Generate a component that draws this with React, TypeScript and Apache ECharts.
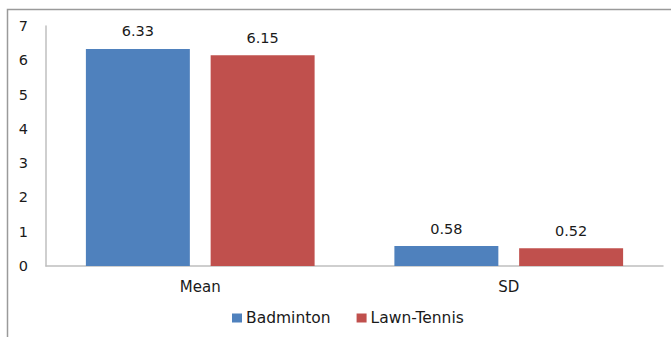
import React, { useEffect, useRef } from "react";
import * as echarts from "echarts";

const categories = ["Mean", "SD"];
const badminton = [6.33, 0.58];
const lawnTennis = [6.15, 0.52];
const yTicks = [0, 1, 2, 3, 4, 5, 6, 7];

const FONT = "DejaVu Sans";

export default function App() {
  const ref = useRef<HTMLDivElement>(null);

  useEffect(() => {
    if (!ref.current) return;
    const chart = echarts.init(ref.current, undefined, { renderer: "svg" });
    const labelStyle = {
      show: true,
      position: "top" as const,
      distance: 10,
      color: "#1a1a1a",
      fontFamily: FONT,
      fontSize: 14.5,
      formatter: (p: any) => Number(p.value).toFixed(2),
    };
    chart.setOption({
      animation: false,
      backgroundColor: "#ffffff",
      textStyle: { fontFamily: FONT },
      graphic: [
        {
          type: "rect",
          silent: true,
          shape: { x: 7.5, y: 9.5, width: 700, height: 400 },
          style: { fill: "none", stroke: "#9a9a9a", lineWidth: 1.5 },
        },
      ],
      grid: { left: 46, right: 8, top: 26, bottom: 71, containLabel: false },
      legend: {
        bottom: 6,
        left: 227,
        itemWidth: 10,
        itemHeight: 9,
        itemGap: 26,
        icon: "rect",
        textStyle: { fontFamily: FONT, fontSize: 15.5, color: "#1a1a1a", padding: [0, 0, 0, -1] },
        data: ["Badminton", "Lawn-Tennis"],
      },
      xAxis: {
        type: "category",
        data: categories,
        axisLine: { show: true, lineStyle: { color: "#bfbfbf", width: 1.5 } },
        axisTick: { show: false },
        axisLabel: { fontFamily: FONT, fontSize: 15, color: "#1a1a1a", margin: 13 },
      },
      yAxis: {
        type: "value",
        min: yTicks[0],
        max: yTicks[yTicks.length - 1],
        interval: 1,
        axisLine: { show: true, lineStyle: { color: "#bfbfbf", width: 1.5 } },
        axisTick: { show: false },
        splitLine: { show: false },
        axisLabel: { fontFamily: FONT, fontSize: 14.5, color: "#1a1a1a", margin: 18 },
      },
      series: [
        {
          name: "Badminton",
          type: "bar",
          data: badminton,
          itemStyle: { color: "#4f81bd" },
          barWidth: "33.7%",
          barGap: "20%",
          label: labelStyle,
        },
        {
          name: "Lawn-Tennis",
          type: "bar",
          data: lawnTennis,
          itemStyle: { color: "#c0504d" },
          barWidth: "33.7%",
          barGap: "20%",
          label: labelStyle,
        },
      ],
    });
    return () => chart.dispose();
  }, []);

  return (
    <div
      ref={ref}
      style={{ position: "fixed", left: 0, top: 0, width: 671, height: 337 }}
    />
  );
}
